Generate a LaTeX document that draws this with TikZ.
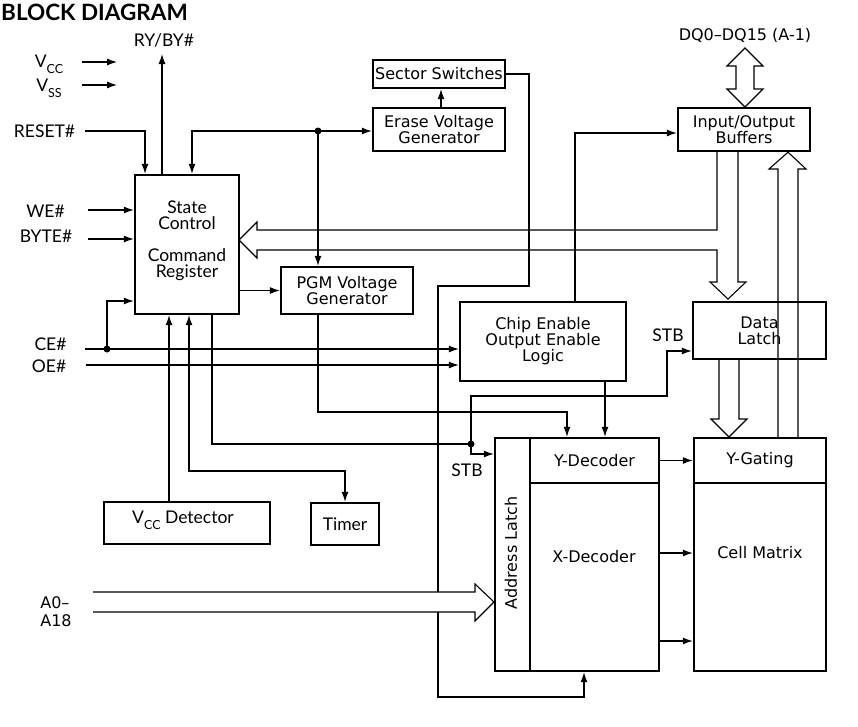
\documentclass[tikz,border=0pt]{standalone}
\usepackage{fontspec}
\setmainfont{DejaVu Sans}
\newfontfamily\gill{Lato}
\usetikzlibrary{arrows.meta}
\newcommand\lowsub[1]{\raisebox{-0.32em}{\fontsize{12.5}{12.5}\selectfont #1}}
\begin{document}
\begin{tikzpicture}[x=1pt,y=-1pt,
  box/.style={draw,line width=2.4pt,inner sep=0pt,align=center,font=\fontsize{16}{16}\selectfont},
  wire/.style={line width=1.1pt},
  arr/.style={wire,-{Latex[length=10pt,width=7pt]}},
  darr/.style={wire,{Latex[length=10pt,width=7pt]}-{Latex[length=10pt,width=7pt]}},
  bus/.style={line width=1.1pt,line join=miter},
  lbl/.style={font=\gill\fontsize{17.5}{17.5}\selectfont,inner sep=0pt},
  gtxt/.style={font=\gill\fontsize{17.5}{16}\selectfont,inner sep=0pt,align=center},
  txt/.style={font=\fontsize{16}{16}\selectfont,inner sep=0pt,align=center},
  dot/.style={circle,fill,inner sep=0pt,minimum size=7pt}]
\useasboundingbox (0,0) rectangle (858,726);

% title
\node[anchor=west,font=\gill\bfseries\fontsize{22.5}{22.5}\selectfont,inner sep=0pt] (title) at (1,12) {BLOCK DIAGRAM};

% boxes
\node[box,minimum width=104pt,minimum height=139pt] (state) at (187,244.5) {};
\node[gtxt] (stateT) at (187,241) {State\\Control\\[16pt]Command\\Register};
\node[box,minimum width=132pt,minimum height=28pt] (sector) at (439,74) {Sector Switches};
\node[box,minimum width=132pt,minimum height=43pt] (erase) at (439,129.5) {Erase Voltage\\Generator};
\node[box,minimum width=132pt,minimum height=43pt] (io) at (744,129.5) {Input/Output\\Buffers};
\node[box,minimum width=132pt,minimum height=47pt] (pgm) at (347,290.5) {PGM Voltage\\Generator};
\node[box,minimum width=166pt,minimum height=79pt] (ce) at (543,341.5) {Chip Enable\\Output Enable\\Logic};
\node[box,minimum width=133pt,minimum height=57pt] (latch) at (759.5,330.5) {Data\\Latch};
\node[box,minimum width=35pt,minimum height=233pt] (addr) at (512.5,554.5) {};
\node[txt,rotate=90] (addrT) at (511,553) {Address Latch};
\node[box,minimum width=129pt,minimum height=45pt] (ydec) at (594.5,460.5) {Y-Decoder};
\node[box,minimum width=129pt,minimum height=188pt] (xdec) at (594.5,577) {};
\node[txt] (xdecT) at (594,557) {X-Decoder};
\node[box,minimum width=132pt,minimum height=45pt] (ygate) at (760,460.5) {Y-Gating};
\node[box,minimum width=132pt,minimum height=188pt] (cell) at (760,577) {};
\node[txt] (cellT) at (760,553) {Cell Matrix};
\node[box,minimum width=166pt,minimum height=42pt] (vccdet) at (187,523) {};
\node[gtxt] (vccdetT) at (183,520) {V\lowsub{CC} Detector};
\node[box,minimum width=68pt,minimum height=42pt,font=\gill\fontsize{17.5}{17.5}\selectfont] (timer) at (345,524) {Timer};

% labels
\node[lbl] (vccL) at (49,64) {V\lowsub{CC}};
\node[lbl] (vssL) at (49,88) {V\lowsub{SS}};
\node[lbl] (rybyL) at (164,40) {RY/BY\#};
\node[lbl] (resetL) at (44.5,131) {RESET\#};
\node[lbl] (weL) at (45.5,211) {WE\#};
\node[lbl] (byteL) at (46,236) {BYTE\#};
\node[lbl] (ceL) at (50.5,344) {CE\#};
\node[lbl] (oeL) at (49,366) {OE\#};
\node[lbl] (stbL1) at (668,335) {STB};
\node[lbl] (stbL2) at (467,470) {STB};
\node[txt,align=left,font=\fontsize{16}{18}\selectfont] (aL) at (56,612) {A0–\\A18};
\node[txt] (dqL) at (745,35) {DQ0–DQ15 (A-1)};

% junctions
\coordinate (j1) at (318,131);
\coordinate (j2) at (107,349);
\coordinate (j3) at (471,444);

% wires
\draw[arr] (82,62) -- (117,62);
\draw[arr] (82,85) -- (117,85);
\draw[arr] (state.north -| 162,0) -- (162,54);
\draw[arr] (85,131) -| (state.north -| 145,0);
\draw[arr] (j1) -| (state.north -| 192,0);
\draw[arr] (j1) -- (erase.west |- j1);
\draw[arr] (j1) -- (pgm.north -| j1);
\draw[arr] (erase.north -| 441,0) -- (sector.south -| 441,0);
\draw[arr] (sector.east) -| (529,286) -| (438,697) -| (xdec.south -| 584,0);
\draw[arr] (state.east |- pgm.west) -- (pgm.west);
\draw[arr] (88,210) -- (state.west |- 0,210);
\draw[arr] (88,239) -- (state.west |- 0,239);
\draw[arr] (85,349) -- (ce.west |- 0,349);
\draw[arr] (j2) |- (state.west |- 0,301);
\draw[arr] (86,365) -- (ce.west |- 0,365);
\draw[arr] (vccdet.north -| 169,0) -- (state.south -| 169,0);
\draw[darr] (state.south -| 189,0) -- (189,471) -| (timer.north);
\draw[wire] (state.south -| 212,0) |- (j3);
\draw[arr] (j3) |- (addr.west |- 0,454);
\draw[arr] (j3) |- (667,396) |- (latch.west |- 0,351);
\draw[arr] (pgm.south -| 318,0) |- (567,412) -- (ydec.north -| 567,0);
\draw[arr] (ce.south -| 605,0) -- (ydec.north -| 605,0);
\draw[arr] (ce.north -| 575,0) |- (io.west |- 0,133);
\draw[arr] (ydec.east) -- (ygate.west);
\draw[arr] (xdec.east |- 0,553) -- (cell.west |- 0,553);
\draw[arr] (xdec.east |- 0,641) -- (cell.west |- 0,641);

% dots
\node[dot] (d1) at (j1) {};
\node[dot] (d2) at (j2) {};
\node[dot] (d3) at (j3) {};

% buses
\draw[bus] (io.south -| 717,0) -- (717,230) -- (257,230) -- (257,222) -- (239,240) -- (257,258) -- (257,250) -- (717,250) -- (717,282) -- (710,282) -- (728,299) -- (746,282) -- (738,282) -- (io.south -| 738,0);
\draw[bus] (latch.south -| 719,0) -- (719,419) -- (711,419) -- (729,437) -- (747,419) -- (739,419) -- (latch.south -| 739,0);
\draw[bus] (ygate.north -| 778,0) -- (778,169) -- (769,169) -- (io.south -| 788,0) -- (806,169) -- (798,169) -- (ygate.north -| 798,0);
\draw[bus] (745,48) -- (763,66) -- (754,66) -- (754,89) -- (763,89) -- (745,107) -- (727,89) -- (736,89) -- (736,66) -- (727,66) -- cycle;
\draw[bus,fill=white] (93,592) -- (475,592) -- (475,584) -- (494,602) -- (475,621) -- (475,612) -- (93,612);
\end{tikzpicture}
\end{document}
